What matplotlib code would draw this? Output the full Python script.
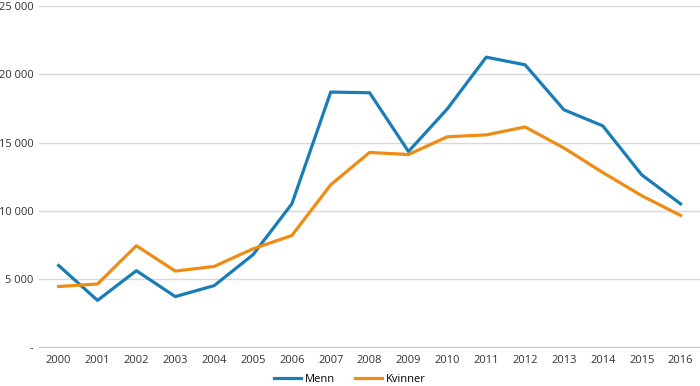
import matplotlib
matplotlib.use("Agg")
import matplotlib.pyplot as plt
from matplotlib.ticker import FuncFormatter

plt.rcParams["font.family"] = ["Open Sans", "DejaVu Sans"]

years = list(range(2000, 2017))
menn = [5980, 3420, 5600, 3700, 4500, 6770, 10500, 18700, 18650, 14340,
        17470, 21260, 20700, 17400, 16220, 12630, 10500]
kvinner = [4440, 4620, 7430, 5570, 5910, 7200, 8180, 11900, 14270, 14120,
           15420, 15560, 16140, 14600, 12800, 11100, 9650]
yticks = [0, 5000, 10000, 15000, 20000, 25000]

fig = plt.figure(figsize=(7.0, 3.86), dpi=100)
ax = fig.add_axes([0.056, 0.101, 0.944, 0.883])

ax.plot(years, menn, color="#1a7db5", linewidth=2.3, label="Menn")
ax.plot(years, kvinner, color="#ee8c14", linewidth=2.3, label="Kvinner")

ax.set_xlim(1999.5, 2016.5)
ax.set_ylim(0, 25000)
ax.set_xticks(years)
ax.set_yticks(yticks)


def fmt(v, pos):
    if v == 0:
        return "-"
    return f"{int(v):,}".replace(",", " ")


ax.yaxis.set_major_formatter(FuncFormatter(fmt))
ax.grid(axis="y", color="#d9d9d9", linewidth=1)
ax.set_axisbelow(True)
for s in ["top", "right", "left"]:
    ax.spines[s].set_visible(False)
ax.spines["bottom"].set_color("#c8c8c8")
ax.tick_params(axis="both", length=0, labelsize=8, colors="#333333")
ax.tick_params(axis="x", pad=6)
ax.tick_params(axis="y", pad=4)

fig.legend(loc="center", bbox_to_anchor=(0.5, 0.018), ncol=2,
           frameon=False, fontsize=8, handlelength=2.4, columnspacing=1.8,
           handletextpad=0.4, borderpad=0)

fig.savefig("out.png", dpi=100)
